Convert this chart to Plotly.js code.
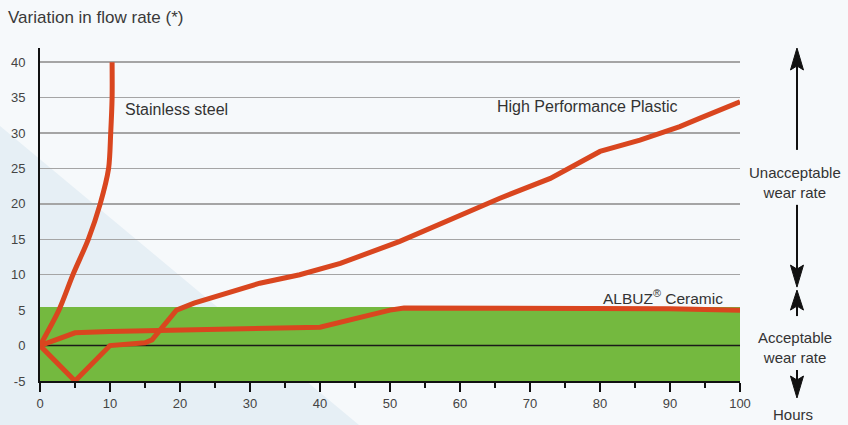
<!DOCTYPE html>
<html>
<head>
<meta charset="utf-8">
<script src="https://cdn.plot.ly/plotly-3.0.1.min.js"></script>
<style>html,body{margin:0;padding:0;background:#f6f9fb;}#chart{width:848px;height:425px;}</style>
</head>
<body>
<div id="chart"></div>
<script>
// Data
const steelHours = [0, 2.7, 4.7, 6.9, 8.6, 9.8, 10.1, 10.3, 10.3];
const steelFlow  = [0, 5, 10, 15, 20, 25, 30, 35, 40];

const plasticHours = [0, 5, 10, 15, 16, 19.5, 22, 26.7, 31.4, 37.1, 42.9, 51.4, 58.6, 65.7, 72.9, 80, 85.7, 91.4, 94.3, 100];
const plasticFlow  = [0, -5, 0, 0.4, 0.8, 5, 6, 7.4, 8.8, 10, 11.6, 14.7, 17.7, 20.8, 23.6, 27.4, 29, 30.9, 32.1, 34.4];

const ceramicHours = [0, 5, 10, 20, 30, 40, 50, 52, 90, 100];
const ceramicFlow  = [0, 1.8, 2.0, 2.2, 2.4, 2.6, 5.0, 5.3, 5.2, 5.0];

const yTicks = [-5, 0, 5, 10, 15, 20, 25, 30, 35, 40];
const xTicks = [0, 10, 20, 30, 40, 50, 60, 70, 80, 90, 100];
const acceptableBand = [-5, 5.45];

const lineColor = '#d9461f';
const FONT = 'Liberation Sans, Arial, sans-serif';

function series(x, y, shape) {
  return {x: x, y: y, type: 'scatter', mode: 'lines',
    line: {color: lineColor, width: 5, shape: shape || 'linear', smoothing: 0.8},
    hoverinfo: 'skip', showlegend: false, cliponaxis: false};
}

const data = [
  series(ceramicHours, ceramicFlow),
  series(plasticHours, plasticFlow),
  series(steelHours, steelFlow, 'spline')
];

// arrow helper (paper coordinates), drawn as shapes
const AX = 1.0814, HW = 0.0093, NOTCH = 0.012;
function arrow(tip, base, tail) {
  const dir = base < tip ? 1 : -1;
  const notchY = base + dir * NOTCH;
  return [
    {type: 'line', xref: 'paper', yref: 'paper', x0: AX, x1: AX, y0: notchY, y1: tail,
      line: {color: '#111', width: 2}},
    {type: 'path', xref: 'paper', yref: 'paper',
      path: `M ${AX} ${tip} L ${AX + HW} ${base} L ${AX} ${notchY} L ${AX - HW} ${base} Z`,
      fillcolor: '#111', line: {color: '#111', width: 1}}
  ];
}

const layout = {
  width: 848, height: 425,
  margin: {l: 40, r: 108, t: 48, b: 44},
  paper_bgcolor: '#f6f9fb',
  plot_bgcolor: 'rgba(0,0,0,0)',
  font: {family: FONT, color: '#3a3a3a', size: 13},
  showlegend: false,
  title: {text: 'Variation in flow rate (*)', xref: 'container', yref: 'container',
    x: 8/848, xanchor: 'left', y: 1 - 17/425, yanchor: 'middle',
    font: {family: FONT, size: 17, color: '#3a3a3a'}},
  xaxis: {range: [0, 100], tickvals: xTicks, ticktext: xTicks.map(String),
    showgrid: false, zeroline: false, showline: true, linecolor: '#111', linewidth: 2,
    ticks: 'outside', ticklen: 9, tickwidth: 2, tickcolor: '#111',
    minor: {dtick: 5, tick0: 0, ticks: 'outside', ticklen: 5, tickwidth: 2, tickcolor: '#111', showgrid: false},
    tickfont: {size: 13, color: '#444'}, fixedrange: true},
  yaxis: {range: [-5, 42], tickvals: yTicks, ticktext: yTicks.map(String),
    showgrid: true, gridcolor: '#a5a5a5', gridwidth: 1.5, zeroline: false,
    showline: true, linecolor: '#111', linewidth: 2, ticks: '', ticklabelstandoff: 10,
    tickfont: {size: 13, color: '#444'}, fixedrange: true},
  shapes: [
    {type: 'path', xref: 'paper', yref: 'paper', layer: 'below',
      path: 'M -0.0571 0.766 L -0.0571 -0.132 L 0.4557 -0.132 Z',
      fillcolor: '#e6eff5', line: {width: 0}},
    {type: 'rect', xref: 'x', yref: 'y', layer: 'between',
      x0: 0, x1: 100, y0: acceptableBand[0], y1: acceptableBand[1],
      fillcolor: '#74b93f', line: {width: 0}},
    {type: 'line', xref: 'x', yref: 'y', layer: 'between',
      x0: 0, x1: 100, y0: 0, y1: 0, line: {color: '#1a1a1a', width: 1.5}},
    ...arrow(1.0, 0.934, 0.694),
    ...arrow(0.282, 0.348, 0.529),
    ...arrow(0.273, 0.213, 0.195),
    ...arrow(-0.051, 0.015, 0.033)
  ],
  annotations: [
    {text: 'Stainless steel', xref: 'x', yref: 'y', x: 11.9, y: 33.3, xanchor: 'left', yanchor: 'middle', showarrow: false, font: {size: 16, color: '#333'}},
    {text: 'High Performance Plastic', xref: 'x', yref: 'y', x: 91.4, y: 33.7, xanchor: 'right', yanchor: 'middle', showarrow: false, font: {size: 16, color: '#333'}},
    {text: 'ALBUZ<sup>®</sup> Ceramic', xref: 'x', yref: 'y', x: 97.9, y: 6.9, xanchor: 'right', yanchor: 'middle', showarrow: false, font: {size: 15.5, color: '#333'}},
    {text: 'Unacceptable<br>wear rate', xref: 'paper', yref: 'paper', x: 1.079, y: 0.595, xanchor: 'center', yanchor: 'middle', showarrow: false, font: {size: 15, color: '#333'}},
    {text: 'Acceptable<br>wear rate', xref: 'paper', yref: 'paper', x: 1.079, y: 0.102, xanchor: 'center', yanchor: 'middle', showarrow: false, font: {size: 15, color: '#333'}},
    {text: 'Hours', xref: 'paper', yref: 'paper', x: 1.076, y: -0.102, xanchor: 'center', yanchor: 'middle', showarrow: false, font: {size: 15, color: '#333'}}
  ]
};

Plotly.newPlot('chart', data, layout, {displayModeBar: false, staticPlot: true});
</script>
</body>
</html>
